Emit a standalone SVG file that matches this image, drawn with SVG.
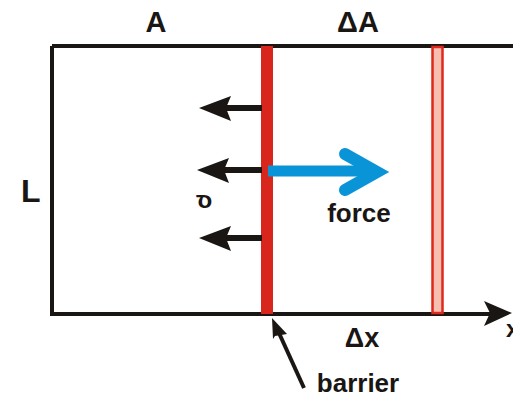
<svg xmlns="http://www.w3.org/2000/svg" width="513" height="397" viewBox="0 0 513 397">
<defs>
<style>
.t{font-family:"Liberation Sans",Arial,sans-serif;font-weight:bold;fill:#1a1614}
.ln{stroke:#1a1614;stroke-width:4;fill:none}
.pa{stroke:#1a1614;stroke-width:6;fill:none}
.ph{fill:#1a1614}
</style>
</defs>
<rect width="513" height="397" fill="#ffffff"/>
<g id="frame">
<path class="ln" d="M52,46 H513 M52,46 V314 M50,314 H495"/>
<polygon class="ph" points="512,313 484,301 490,313 484,326"/>
</g>
<g id="barrier">
<rect x="261" y="46" width="12" height="268" fill="#d9261c"/>
</g>
<g id="barrier2">
<rect x="432.5" y="47" width="10" height="266" fill="#f7bfb0" stroke="#e0291d" stroke-width="2.5"/>
</g>
<g id="connectors">
<g id="pressure-arrows">
<line class="pa" x1="262" y1="108" x2="222" y2="108"/>
<polygon class="ph" points="199,108 231,96 226,108 231,121"/>
<line class="pa" x1="262" y1="170" x2="220" y2="170"/>
<polygon class="ph" points="197,170 229,158 224,170 229,183"/>
<line class="pa" x1="262" y1="238" x2="222" y2="238"/>
<polygon class="ph" points="199,238 231,226 226,238 231,251"/>
</g>
<g id="force-arrow">
<line x1="268" y1="171" x2="377" y2="171" stroke="#0a94d8" stroke-width="11"/>
<polyline points="345,154 377,172 345,190" fill="none" stroke="#0a94d8" stroke-width="12" stroke-linecap="round" stroke-linejoin="miter"/>
</g>
<g id="barrier-pointer">
<line x1="304" y1="388" x2="279" y2="333" stroke="#1a1614" stroke-width="4"/>
<polygon class="ph" points="272,318 287,334 275,336 273,339"/>
</g>
</g>
<g id="labels">
<text class="t" x="156" y="32" font-size="29" text-anchor="middle">A</text>
<text class="t" x="358" y="32" font-size="29" text-anchor="middle">ΔA</text>
<text class="t" x="21" y="202" font-size="32">L</text>
<text class="t" x="362" y="347" font-size="27" text-anchor="middle">Δx</text>
<text class="t" x="358" y="392" font-size="26" text-anchor="middle">barrier</text>
<text class="t" x="359" y="222" font-size="26" text-anchor="middle">force</text>
<text class="t" x="506" y="337" font-size="24">x</text>
<text class="t" font-size="24" transform="translate(204,208) scale(-1,1)" text-anchor="middle">σ</text>
</g>
</svg>
